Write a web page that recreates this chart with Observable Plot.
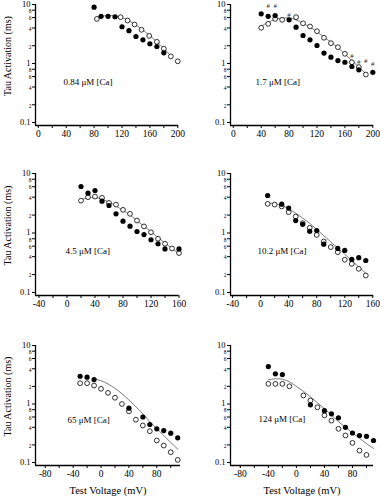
<!DOCTYPE html>
<html><head><meta charset="utf-8">
<script src="https://cdn.jsdelivr.net/npm/d3@7"></script>
<script src="https://cdn.jsdelivr.net/npm/@observablehq/plot@0.6"></script>
<style>
body{margin:0;background:#fff;}
#chart{position:relative;width:380px;height:500px;background:#fff;overflow:hidden;}
#chart svg{position:absolute;}
</style></head><body><div id="chart"></div>
<script>
// ---- data ----
const panelLabels = ["0.84 μM [Ca]", "1.7 μM [Ca]", "4.5 μM [Ca]", "10.2 μM [Ca]", "65 μM [Ca]", "124 μM [Ca]"];
const yTitle = "Tau Activation (ms)";
const xTitle = "Test Voltage (mV)";
const yMajorTicks = [0.1, 1, 10];
const yMinorTicks = [0.2, 0.4, 0.6, 0.8, 2, 4, 6, 8];
const xMajorTop = [0, 40, 80, 120, 160, 200];
const xMinorTop = [20, 60, 100, 140, 180];
const xMajorMid = [-40, 0, 40, 80, 120, 160];
const xMinorMid = [-20, 20, 60, 100, 140];
const xMajorBot = [-80, -40, 0, 40, 80];
const xMinorBot = [-60, -20, 20, 60, 100];

// Panel 1: 0.84 uM
const filled1X = [80, 90, 100, 110, 120, 130, 140, 150, 160, 170, 180];
const filled1Y = [9.0, 6.3, 6.3, 6.2, 4.2, 3.6, 2.87, 2.52, 2.16, 1.94, 1.52];
const open1X = [84, 118, 128, 138, 148, 159, 170, 180, 190, 200];
const open1Y = [5.7, 6.1, 5.36, 4.58, 3.73, 2.94, 2.33, 1.78, 1.32, 1.09];
const fit1X = [84, 90, 100, 110, 120, 130, 140, 150, 160, 170, 180, 190];
const fit1Y = [5.9, 6.3, 6.5, 6.4, 6.0, 5.3, 4.5, 3.7, 2.95, 2.35, 1.8, 1.35];

// Panel 2: 1.7 uM
const filled2X = [40, 50, 60, 80, 90, 100, 110, 120, 130, 140, 150, 160, 170, 180, 200];
const filled2Y = [6.95, 6.3, 6.5, 5.5, 4.12, 2.98, 2.52, 2.02, 1.5, 1.28, 1.12, 1.05, 0.89, 0.78, 0.71];
const open2X = [40, 50, 60, 70, 90, 100, 110, 120, 130, 140, 150, 160, 170, 180, 190];
const open2Y = [4.03, 4.7, 5.7, 5.5, 6.1, 4.8, 4.24, 3.53, 2.73, 2.21, 1.89, 1.46, 1.05, 0.87, 0.65];
const hash2X = [50, 60, 70, 80, 170, 180, 190, 200];
const hash2Y = [9.6, 9.6, 5.5, 6.6, 1.37, 1.09, 1.1, 1.0];
const fit2X = [40, 50, 60, 70, 80, 90, 100, 110, 120, 130, 140, 150, 160, 170, 180, 190];
const fit2Y = [4.3, 5.0, 5.6, 5.9, 5.9, 5.5, 4.8, 4.1, 3.45, 2.8, 2.3, 1.85, 1.45, 1.12, 0.87, 0.67];

// Panel 3: 4.5 uM
const filled3X = [20, 30, 40, 50, 60, 70, 80, 90, 100, 110, 120, 130, 140, 160];
const filled3Y = [6.05, 4.67, 5.18, 3.43, 2.9, 2.1, 1.58, 1.3, 1.06, 0.94, 0.77, 0.66, 0.54, 0.54];
const open3X = [20, 30, 40, 50, 60, 70, 80, 90, 100, 110, 120, 130, 140, 150, 160];
const open3Y = [3.5, 4.0, 4.1, 3.9, 3.2, 3.0, 2.45, 2.1, 1.62, 1.29, 1.03, 0.8, 0.66, 0.55, 0.46];
const fit3X = [20, 30, 40, 50, 60, 70, 80, 90, 100, 110, 120, 130, 140, 150, 160];
const fit3Y = [3.6, 3.9, 3.95, 3.7, 3.3, 2.85, 2.4, 2.0, 1.6, 1.3, 1.05, 0.84, 0.68, 0.55, 0.45];

// Panel 4: 10.2 uM
const filled4X = [10, 30, 40, 50, 60, 70, 80, 90, 110, 120, 130, 140, 150];
const filled4Y = [4.27, 3.05, 2.62, 1.62, 1.4, 1.07, 1.1, 0.65, 0.55, 0.51, 0.36, 0.385, 0.345];
const open4X = [10, 20, 30, 40, 50, 60, 70, 80, 90, 100, 110, 120, 130, 140, 150];
const open4Y = [3.09, 3.0, 2.79, 2.24, 1.89, 1.46, 1.22, 0.93, 0.72, 0.58, 0.475, 0.355, 0.303, 0.25, 0.193];
const fit4X = [10, 20, 30, 40, 50, 60, 70, 80, 90, 100, 110, 120, 130, 140, 150];
const fit4Y = [3.2, 3.1, 2.9, 2.55, 2.15, 1.78, 1.45, 1.15, 0.9, 0.71, 0.56, 0.44, 0.34, 0.27, 0.21];

// Panel 5: 65 uM
const filled5X = [-30, -20, -10, 40, 60, 70, 80, 90, 100, 110];
const filled5Y = [2.98, 2.87, 2.62, 0.85, 0.6, 0.447, 0.377, 0.352, 0.317, 0.264];
const open5X = [-30, -20, -10, 0, 10, 20, 30, 40, 50, 60, 70, 80, 90, 100, 110];
const open5Y = [2.27, 2.27, 2.07, 1.82, 1.55, 1.28, 1.0, 0.75, 0.54, 0.43, 0.343, 0.238, 0.195, 0.15, 0.111];
const fit5X = [-10, 0, 10, 20, 30, 40, 50, 60, 70, 80, 90, 100, 110];
const fit5Y = [2.7, 2.5, 2.2, 1.85, 1.5, 1.17, 0.9, 0.68, 0.5, 0.38, 0.29, 0.22, 0.17];

// Panel 6: 124 uM
const filled6X = [-40, -30, -20, 20, 40, 50, 60, 70, 80, 90, 100, 110];
const filled6Y = [4.37, 3.28, 3.19, 0.97, 0.77, 0.68, 0.58, 0.40, 0.32, 0.29, 0.28, 0.238];
const open6X = [-40, -30, -20, -10, 10, 20, 30, 40, 50, 60, 70, 80, 90, 100];
const open6Y = [2.21, 2.21, 2.21, 2.01, 1.4, 1.15, 0.88, 0.64, 0.52, 0.377, 0.29, 0.217, 0.16, 0.135];
const fit6X = [-40, -30, -20, -10, 0, 10, 20, 30, 40, 50, 60, 70, 80, 90, 100, 110];
const fit6Y = [2.6, 2.7, 2.65, 2.4, 2.0, 1.65, 1.33, 1.05, 0.83, 0.65, 0.5, 0.4, 0.32, 0.26, 0.21, 0.175];

// ---- build ----
const zip = (xs, ys) => xs.map((x, i) => ({x, y: ys[i]}));
const yDomain = [0.089, 10];
const yAllTicks = yMajorTicks.concat(yMinorTicks).sort((a, b) => a - b);
const font = "'Liberation Serif', 'Times New Roman', serif";
const fmtYMajor = d => d === 0.1 ? "0.1" : String(d);
const fmtYMinor = d => d < 1 ? String(Math.round(d * 10)) : String(d);

const panels = [
  {label: panelLabels[0], filled: zip(filled1X, filled1Y), open: zip(open1X, open1Y), hash: [], fit: zip(fit1X, fit1Y),
   xDomain: [-4, 201], xMajor: xMajorTop, xMinor: xMinorTop, left: 0, top: 0, width: 190, height: 150, mt: 4, mb: 25, mr: 12, col: 0, row: 0, ldx: 28, ldy: 17.5},
  {label: panelLabels[1], filled: zip(filled2X, filled2Y), open: zip(open2X, open2Y), hash: zip(hash2X, hash2Y), fit: zip(fit2X, fit2Y),
   xDomain: [-4, 201], xMajor: xMajorTop, xMinor: xMinorTop, left: 195, top: 0, width: 185, height: 150, mt: 4, mb: 25, mr: 7, col: 1, row: 0, ldx: 25, ldy: 17.5},
  {label: panelLabels[2], filled: zip(filled3X, filled3Y), open: zip(open3X, open3Y), hash: [], fit: zip(fit3X, fit3Y),
   xDomain: [-45, 160], xMajor: xMajorMid, xMinor: xMinorMid, left: 0, top: 170, width: 190, height: 150, mt: 3, mb: 25, mr: 11.5, col: 0, row: 1, ldx: 30, ldy: 16.7},
  {label: panelLabels[3], filled: zip(filled4X, filled4Y), open: zip(open4X, open4Y), hash: [], fit: zip(fit4X, fit4Y),
   xDomain: [-43, 161], xMajor: xMajorMid, xMinor: xMinorMid, left: 195, top: 170, width: 185, height: 150, mt: 3, mb: 25, mr: 7, col: 1, row: 1, ldx: 27, ldy: 16.7},
  {label: panelLabels[4], filled: zip(filled5X, filled5Y), open: zip(open5X, open5Y), hash: [], fit: zip(fit5X, fit5Y),
   xDomain: [-94, 114], xMajor: xMajorBot, xMinor: xMinorBot, left: 0, top: 341, width: 190, height: 159, mt: 4, mb: 35, mr: 10, col: 0, row: 2, ldx: 32, ldy: 15},
  {label: panelLabels[5], filled: zip(filled6X, filled6Y), open: zip(open6X, open6Y), hash: [], fit: zip(fit6X, fit6Y),
   xDomain: [-94, 110], xMajor: xMajorBot, xMinor: xMinorBot, left: 195, top: 341, width: 185, height: 159, mt: 4, mb: 35, mr: 7, col: 1, row: 2, ldx: 28, ldy: 14}
];

const chart = document.getElementById("chart");
for (const p of panels) {
  const xAll = p.xMajor.concat(p.xMinor).sort((a, b) => a - b);
  const marks = [
    Plot.line(p.fit, {x: "x", y: "y", stroke: "#222", strokeWidth: 0.6, curve: "natural"}),
    Plot.ruleX([p.xDomain[0]], {stroke: "#000", strokeWidth: 1.3}),
    Plot.ruleY([yDomain[0]], {stroke: "#000", strokeWidth: 1.3}),
    Plot.axisY(yAllTicks, {tickSize: 3, label: null, tickFormat: () => ""}),
    Plot.text(yMajorTicks, {y: d => d, text: fmtYMajor, frameAnchor: "left", textAnchor: "end", dx: -5, dy: -0.5, fontSize: 8.5, fill: "#000"}),
    Plot.text(yMinorTicks, {y: d => d, text: fmtYMinor, frameAnchor: "left", textAnchor: "end", dx: -4, dy: 1, fontSize: 5.5, fill: "#000"}),
    Plot.axisX(xAll, {tickSize: 3, tickPadding: 2, fontSize: 9.5, label: null,
      tickFormat: d => p.xMajor.includes(d) ? String(d) : ""}),
    Plot.text(p.hash, {x: "x", y: "y", text: () => "#", fontSize: 7, fill: "#222"}),
    Plot.dot(p.open, {x: "x", y: "y", r: 2.4, fill: "white", stroke: "#000", strokeWidth: 0.8}),
    Plot.dot(p.filled, {x: "x", y: "y", r: 2.6, fill: "#000"}),
    Plot.text([p.label], {frameAnchor: "left", dx: p.ldx, dy: p.ldy, textAnchor: "start", fontSize: 9, fill: "#000"})
  ];
  if (p.col === 0) {
    marks.push(Plot.text([yTitle], {frameAnchor: "left", textAnchor: "middle", rotate: -90, dx: -28, dy: -9, fontSize: 10, fill: "#000"}));
  }
  if (p.row === 2) {
    marks.push(Plot.text([xTitle], {frameAnchor: "bottom", textAnchor: "middle", dy: 28, fontSize: 10.5, fill: "#000"}));
  }
  const svg = Plot.plot({
    width: p.width, height: p.height,
    marginTop: p.mt, marginBottom: p.mb, marginLeft: 35, marginRight: p.mr,
    x: {type: "linear", domain: p.xDomain, label: null},
    y: {type: "log", domain: yDomain, label: null},
    style: {fontFamily: font, background: "transparent", color: "#000", overflow: "visible"},
    marks
  });
  svg.style.left = p.left + "px";
  svg.style.top = p.top + "px";
  chart.appendChild(svg);
}
</script></body></html>
